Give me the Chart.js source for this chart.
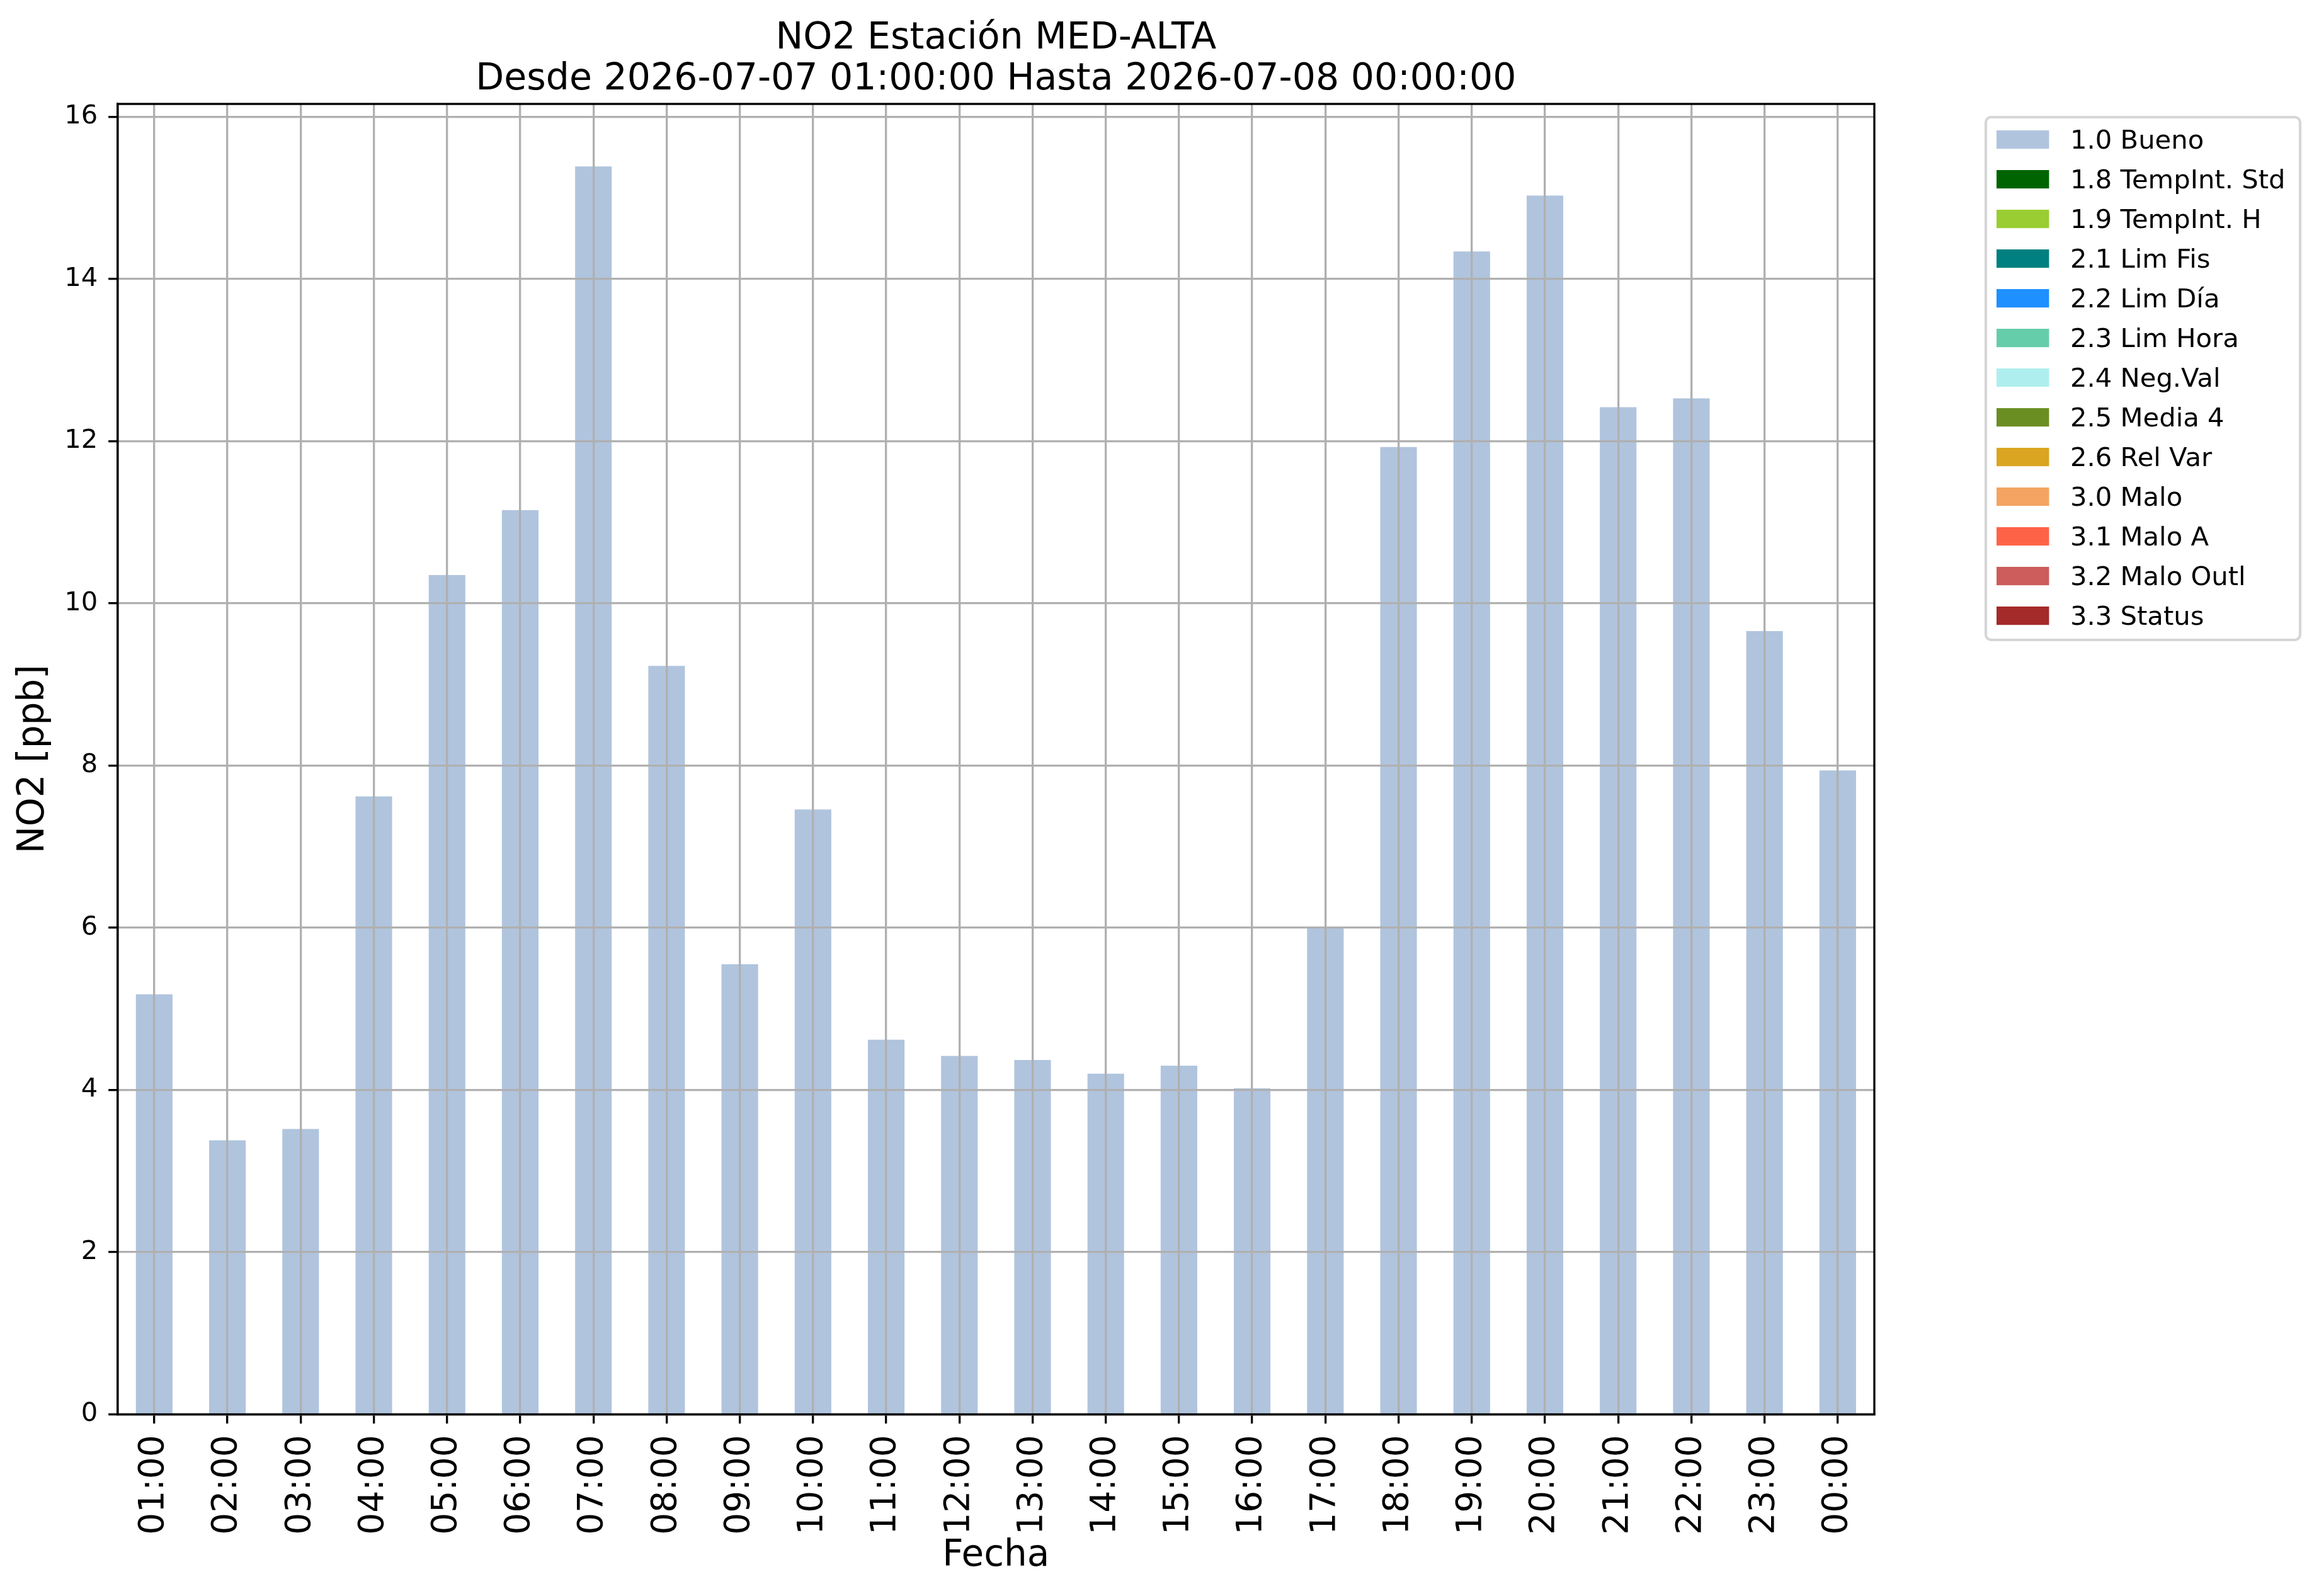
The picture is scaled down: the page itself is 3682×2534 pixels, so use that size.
<!DOCTYPE html>
<html>
<head>
<meta charset="utf-8">
<script src="https://cdn.jsdelivr.net/npm/chart.js@4.4.1/dist/chart.umd.min.js"></script>
<style>
  html, body { margin: 0; padding: 0; background: #ffffff; }
  #wrap { width: 3682px; height: 2534px; }
</style>
</head>
<body>
<div id="wrap"><canvas id="c" width="3682" height="2534" style="width:3682px;height:2534px"></canvas></div>
<script>
// ---- data ----
const hours = ['01:00','02:00','03:00','04:00','05:00','06:00','07:00','08:00','09:00','10:00','11:00','12:00',
               '13:00','14:00','15:00','16:00','17:00','18:00','19:00','20:00','21:00','22:00','23:00','00:00'];
const no2Values = [5.18, 3.38, 3.52, 7.62, 10.35, 11.15, 15.39, 9.23, 5.55, 7.46, 4.62, 4.42,
                   4.37, 4.20, 4.30, 4.02, 6.01, 11.93, 14.34, 15.03, 12.42, 12.53, 9.66, 7.94];
const flagLabels = ['1.0 Bueno','1.8 TempInt. Std','1.9 TempInt. H','2.1 Lim Fis','2.2 Lim Día','2.3 Lim Hora',
                    '2.4 Neg.Val','2.5 Media 4','2.6 Rel Var','3.0 Malo','3.1 Malo A','3.2 Malo Outl','3.3 Status'];
const flagColors = ['#B0C4DE','#006400','#9ACD32','#008080','#1E90FF','#66CDAA',
                    '#AFEEEE','#6B8E23','#DAA520','#F4A460','#FF6347','#CD5C5C','#A52A2A'];
const yTicks = [0, 2, 4, 6, 8, 10, 12, 14, 16];
const yMax = 16.16;
const titleLines = ['NO2 Estación MED-ALTA', 'Desde 2026-07-07 01:00:00 Hasta 2026-07-08 00:00:00'];
const xTitle = 'Fecha';
const yTitle = 'NO2 [ppb]';

// ---- styling ----
const FONT = "'DejaVu Sans', 'Liberation Sans', sans-serif";
Chart.defaults.font.family = FONT;
Chart.defaults.color = '#000000';
const LW = 3.33;          // 0.8pt at 300 dpi
const GRID = '#b0b0b0';

const datasets = flagLabels.map((lab, i) => ({
  label: lab,
  data: i === 0 ? no2Values : [],
  backgroundColor: flagColors[i],
  borderWidth: 0,
  barPercentage: 0.5,
  categoryPercentage: 1.0
}));

const framePlugin = {
  id: 'frame',
  afterDraw(chart) {
    const { ctx, chartArea: a } = chart;
    ctx.save();
    ctx.strokeStyle = '#000000';
    ctx.lineWidth = LW;
    ctx.strokeRect(a.left, a.top, a.right - a.left, a.bottom - a.top);
    ctx.restore();
  }
};

const legendPlugin = {
  id: 'mplLegend',
  afterDraw(chart) {
    const ctx = chart.ctx;
    const box = { x: 3153, y: 186, w: 499, h: 830, r: 8.3 };
    ctx.save();
    ctx.fillStyle = 'rgba(255,255,255,0.8)';
    ctx.strokeStyle = '#d6d6d6';
    ctx.lineWidth = 4.2;
    ctx.beginPath();
    ctx.roundRect(box.x, box.y, box.w, box.h, box.r);
    ctx.fill();
    ctx.stroke();
    ctx.font = '41.7px ' + FONT;
    ctx.textAlign = 'left';
    ctx.textBaseline = 'alphabetic';
    chart.data.datasets.forEach((ds, i) => {
      const top = 207 + i * 63;
      ctx.fillStyle = ds.backgroundColor;
      ctx.fillRect(3170, top, 83.4, 29.2);
      ctx.fillStyle = '#000000';
      ctx.fillText(ds.label, 3287, top + 29.2);
    });
    ctx.restore();
  }
};

new Chart(document.getElementById('c'), {
  type: 'bar',
  data: { labels: hours, datasets: datasets },
  options: {
    responsive: false,
    devicePixelRatio: 1,
    animation: false,
    events: [],
    layout: { padding: { left: 0, right: 706, top: 0, bottom: 0 } },
    plugins: {
      legend: { display: false },
      tooltip: { enabled: false },
      title: {
        display: true,
        fullSize: false,
        text: titleLines,
        color: '#000000',
        font: { family: FONT, size: 58.5, weight: 'normal', lineHeight: 1.113 },
        padding: { top: 28.8, bottom: 6 }
      }
    },
    scales: {
      x: {
        stacked: true,
        offset: true,
        grid: { display: true, offset: false, color: GRID, lineWidth: LW, z: 1,
                drawTicks: true, tickLength: 14.6, tickColor: '#000000', tickWidth: LW },
        border: { display: true, color: '#000000', width: LW, z: 2 },
        ticks: { autoSkip: false, minRotation: 90, maxRotation: 90, padding: 18,
                 font: { family: FONT, size: 55 }, color: '#000000' },
        title: { display: true, text: xTitle, color: '#000000',
                 font: { family: FONT, size: 58, lineHeight: 1.0 }, padding: { top: -12.7, bottom: 34 } }
      },
      y: {
        stacked: true,
        min: 0,
        max: yMax,
        afterBuildTicks(scale) { scale.ticks = yTicks.map(v => ({ value: v })); },
        grid: { display: true, color: GRID, lineWidth: LW, z: 1,
                drawTicks: true, tickLength: 14.6, tickColor: '#000000', tickWidth: LW },
        border: { display: true, color: '#000000', width: LW, z: 2 },
        ticks: { padding: 16.8, font: { family: FONT, size: 41.7 }, color: '#000000' },
        title: { display: true, text: yTitle, color: '#000000',
                 font: { family: FONT, size: 58, lineHeight: 1.0 }, padding: { top: 25, bottom: 2.5 } }
      }
    }
  },
  plugins: [framePlugin, legendPlugin]
});
</script>
</body>
</html>
